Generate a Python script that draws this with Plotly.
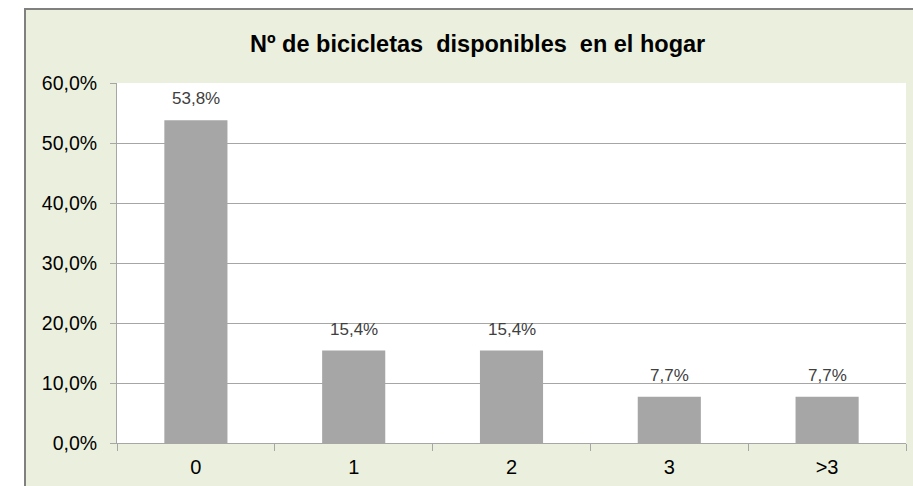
import plotly.graph_objects as go

# Number of bicycles available per household (share of households, %)
categories = ["0", "1", "2", "3", ">3"]
shares = [53.8, 15.4, 15.4, 7.7, 7.7]
y_ticks = [0, 10, 20, 30, 40, 50, 60]
y_tick_labels = [f"{t:.1f}".replace(".", ",") + "%" for t in y_ticks]

W, H = 913, 486
L, T, R, B = 117, 83, 7, 43
PW, PH = W - L - R, H - T - B

FRAME_BG = "#EBF0DE"
BAR = "#A6A6A6"
GRID = "#A6A6A6"
FONT = "Liberation Sans, Arial, sans-serif"


def px_x(px):
    return (px - L) / PW


def px_y(py):
    return (H - B - py) / PH


fig = go.Figure(
    go.Bar(
        x=categories,
        y=shares,
        marker=dict(color=BAR, line=dict(width=0)),
        width=0.4,
        hoverinfo="skip",
    )
)

# value labels above each bar
for c, v in zip(categories, shares):
    fig.add_annotation(
        x=c, y=v, xref="x", yref="y",
        text=f"{v:.1f}".replace(".", ",") + "%",
        showarrow=False, yanchor="bottom", yshift=10,
        font=dict(family=FONT, size=17, color="#404040"),
    )

# chart title
fig.add_annotation(
    x=px_x(477), y=px_y(44), xref="paper", yref="paper",
    text="<b>Nº de bicicletas  disponibles  en el hogar</b>",
    showarrow=False, xanchor="center", yanchor="middle",
    font=dict(family=FONT, size=23.5, color="#000000"),
)

# white margin outside the chart frame, plus frame edges
shapes = [
    dict(type="rect", xref="paper", yref="paper",
         x0=px_x(-5), x1=px_x(24), y0=px_y(H + 5), y1=px_y(-5),
         fillcolor="white", line=dict(width=0), layer="below"),
    dict(type="rect", xref="paper", yref="paper",
         x0=px_x(-5), x1=px_x(W + 5), y0=px_y(8), y1=px_y(-5),
         fillcolor="white", line=dict(width=0), layer="below"),
    dict(type="line", xref="paper", yref="paper",
         x0=px_x(25), x1=px_x(25), y0=px_y(H + 5), y1=px_y(8),
         line=dict(color="#808080", width=2)),
    dict(type="line", xref="paper", yref="paper",
         x0=px_x(24), x1=px_x(W + 5), y0=px_y(9), y1=px_y(9),
         line=dict(color="#808080", width=2)),
]

fig.update_layout(
    width=W, height=H,
    margin=dict(l=L, r=R, t=T, b=B, pad=0),
    paper_bgcolor=FRAME_BG,
    plot_bgcolor="white",
    showlegend=False,
    bargap=0.6,
    shapes=shapes,
    font=dict(family=FONT, color="#000000"),
)

fig.update_xaxes(
    type="category",
    showgrid=False,
    showline=True, linecolor=GRID, linewidth=1,
    ticks="outside", ticklen=7, tickcolor=GRID, tickson="boundaries",
    tickfont=dict(family=FONT, size=20, color="#000000"),
    ticklabelstandoff=6,
)

fig.update_yaxes(
    range=[0, 60],
    tickvals=y_ticks,
    ticktext=y_tick_labels,
    showgrid=True, gridcolor=GRID, gridwidth=1,
    showline=True, linecolor=GRID, linewidth=1,
    zeroline=False,
    ticks="outside", ticklen=6, tickcolor=GRID,
    tickfont=dict(family=FONT, size=19.5, color="#000000"),
    ticklabelstandoff=9,
)

fig.write_html("out.html")
